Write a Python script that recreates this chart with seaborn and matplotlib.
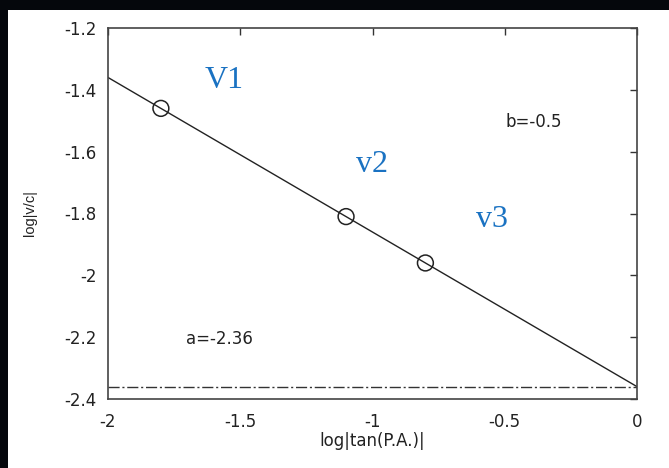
import matplotlib
matplotlib.use("Agg")
import matplotlib.pyplot as plt
import seaborn as sns
import numpy as np
import pandas as pd
from matplotlib.patches import Rectangle

sns.set_theme(style="white")
plt.rcParams['font.family'] = ['DejaVu Sans']

# Data
point_x = [-1.8, -1.1, -0.8]
point_y = [-1.46, -1.81, -1.96]
fit_a = -2.36
fit_b = -0.5
line_x = [-2.0, 0.0]
line_y = [fit_a + fit_b * v for v in line_x]
labels = ["V1", "v2", "v3"]
label_pos = [(-1.56, -1.37), (-1.0, -1.64), (-0.55, -1.82)]
x_ticks = [-2, -1.5, -1, -0.5, 0]
x_tick_labels = ["-2", "-1.5", "-1", "-0.5", "0"]
y_ticks = [-2.4, -2.2, -2.0, -1.8, -1.6, -1.4, -1.2]
y_tick_labels = ["-2.4", "-2.2", "-2", "-1.8", "-1.6", "-1.4", "-1.2"]

pts = pd.DataFrame({"x": point_x, "y": point_y})
fit = pd.DataFrame({"x": line_x, "y": line_y})

fig = plt.figure(figsize=(6.69, 4.68), dpi=100)
fig.patch.set_facecolor("#05070c")
fig.add_artist(Rectangle((8 / 669, 0), 1, 1 - 10 / 468, transform=fig.transFigure,
                         facecolor="white", edgecolor="none", zorder=0))

ax = fig.add_axes([108 / 669, 1 - 399 / 468, 529 / 669, 371 / 468])
ax.set_facecolor("white")

sns.lineplot(data=fit, x="x", y="y", ax=ax, color="#222222", linewidth=1.0)
ax.axhline(fit_a, color="#333333", linewidth=1.0, linestyle=(0, (8, 2, 1.5, 2)))
sns.scatterplot(data=pts, x="x", y="y", ax=ax, s=130, facecolor="none",
                edgecolor="#222222", linewidth=1.1, zorder=5)

ax.set_xlim(-2, 0)
ax.set_ylim(-2.4, -1.2)
ax.set_xticks(x_ticks)
ax.set_xticklabels(x_tick_labels)
ax.set_yticks(y_ticks)
ax.set_yticklabels(y_tick_labels)
ax.tick_params(direction="in", length=5, width=1, colors="#333333",
               top=True, right=True, labelsize=12, labelcolor="#222222")
ax.tick_params(axis="x", pad=10)
ax.tick_params(axis="y", pad=8)
for s in ax.spines.values():
    s.set_color("#444444")
    s.set_linewidth(1.2)

ax.set_xlabel("log|tan(P.A.)|", fontsize=12, color="#222222", labelpad=1)
ax.set_ylabel("log|v/c|", fontsize=10.5, family=["Liberation Sans", "DejaVu Sans"],
              color="#222222", labelpad=20)

ax.text(-1.58, -2.205, "a=-2.36", ha="center", va="center", fontsize=12, color="#222222")
ax.text(-0.39, -1.505, "b=-0.5", ha="center", va="center", fontsize=12, color="#222222")

for lab, (lx, ly) in zip(labels, label_pos):
    ax.text(lx, ly, lab, ha="center", va="center", fontsize=23,
            family=["Liberation Serif", "DejaVu Serif"], color="#1a72c2")

fig.savefig("out.png", dpi=100, facecolor=fig.get_facecolor())
